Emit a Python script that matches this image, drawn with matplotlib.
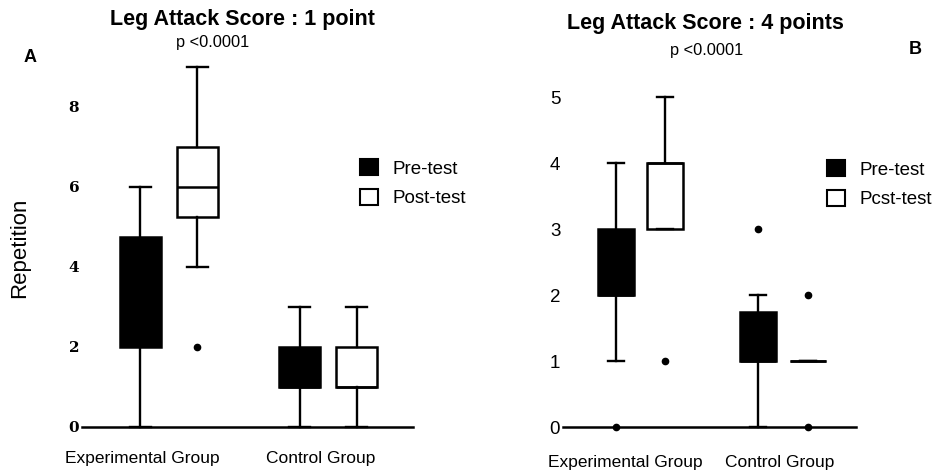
import matplotlib.pyplot as plt
from matplotlib.patches import Patch

plt.rcParams['font.family'] = ['Liberation Sans', 'DejaVu Sans']

# Leg attack score 1 point (panel A): Exp pre, Exp post, Ctrl pre, Ctrl post
a_q1 = [2, 5.25, 1, 1]
a_med = [3, 6, 1, 1]
a_q3 = [4.75, 7, 2, 2]
a_lo = [0, 4, 0, 0]
a_hi = [6, 9, 3, 3]
a_fliers = [[], [2], [], []]

# Leg attack score 4 points (panel B)
b_q1 = [2, 3, 1, 1]
b_med = [2, 4, 1, 1]
b_q3 = [3, 4, 1.75, 1]
b_lo = [1, 3, 0, 1]
b_hi = [4, 5, 2, 1]
b_fliers = [[0], [1], [3], [2, 0]]

groups = ['Experimental Group', 'Control Group']
fills = ['black', 'white', 'black', 'white']

W, H = 941, 474
fig = plt.figure(figsize=(W / 100, H / 100), dpi=100)


def px_axes(x0, x1, ytop, ybot):
    return fig.add_axes([x0 / W, 1 - ybot / H, (x1 - x0) / W, (ybot - ytop) / H])


def ftext(x, y, s, **kw):
    fig.text(x / W, 1 - y / H, s, ha='center', va='center', **kw)


def draw_panel(ax, q1, med, q3, lo, hi, fliers, pos, width, capw):
    stats = []
    for i in range(4):
        stats.append(dict(q1=q1[i], med=med[i], q3=q3[i], whislo=lo[i],
                          whishi=hi[i], fliers=fliers[i]))
    res = ax.bxp(stats, positions=pos, widths=width, capwidths=capw,
                 patch_artist=True, manage_ticks=False,
                 boxprops=dict(linewidth=1.8, edgecolor='black'),
                 whiskerprops=dict(linewidth=1.7, color='black'),
                 capprops=dict(linewidth=1.7, color='black'),
                 medianprops=dict(linewidth=1.8, color='black'),
                 flierprops=dict(marker='o', markersize=4.5, markerfacecolor='black',
                                 markeredgecolor='black'))
    for box, c in zip(res['boxes'], fills):
        box.set_facecolor(c)
    for k in res:
        for art in res[k]:
            art.set_clip_on(False)
    for s in ['top', 'right', 'left']:
        ax.spines[s].set_visible(False)
    ax.spines['bottom'].set_linewidth(1.8)
    ax.set_xticks([])
    ax.tick_params(axis='y', length=0, pad=2)


def add_legend(ax, labels, x, y):
    ax.legend(handles=[Patch(facecolor='black', edgecolor='black', linewidth=1.5),
                       Patch(facecolor='white', edgecolor='black', linewidth=1.5)],
              labels=labels, loc='upper left',
              bbox_to_anchor=(x / W, 1 - y / H), bbox_transform=fig.transFigure,
              frameon=False, fontsize=13.5, handlelength=0.95, handleheight=0.95,
              handletextpad=0.8, labelspacing=0.6, borderpad=0, borderaxespad=0)


# panel A
axA = px_axes(82, 413, 47, 427)
draw_panel(axA, a_q1, a_med, a_q3, a_lo, a_hi, a_fliers,
           [1, 2, 3.8, 4.8], 0.72, 0.37)
axA.set_xlim(-0.02, 5.79)
axA.set_ylim(0, 9.5)
axA.set_yticks([0, 2, 4, 6, 8])
axA.tick_params(axis='y', labelsize=11)
for t in axA.get_yticklabels():
    t.set_fontweight('bold')
    t.set_family(['DejaVu Serif'])
ftext(20, 248, 'Repetition', fontsize=16, rotation=90)
ftext(242, 20, 'Leg Attack Score : 1 point', fontsize=15.5, fontweight='bold')
ftext(213, 42, 'p <0.0001', fontsize=11.8)
ftext(30, 57, 'A', fontsize=13, fontweight='bold')
ftext(142, 459, groups[0], fontsize=12.5)
ftext(321, 459, groups[1], fontsize=12.5)
add_legend(axA, ['Pre-test', 'Post-test'], 360, 159)

# panel B
axB = px_axes(563, 856, 64, 427)
draw_panel(axB, b_q1, b_med, b_q3, b_lo, b_hi, b_fliers,
           [1, 1.99, 3.87, 4.88], 0.73, 0.34)
axB.set_xlim(-0.07, 5.85)
axB.set_ylim(0, 5.5)
axB.set_yticks([0, 1, 2, 3, 4, 5])
axB.tick_params(axis='y', labelsize=13.5)
ftext(705, 23, 'Leg Attack Score : 4 points', fontsize=15.5, fontweight='bold')
ftext(707, 50, 'p <0.0001', fontsize=11.8)
ftext(915, 50, 'B', fontsize=13, fontweight='bold')
ftext(625, 463, groups[0], fontsize=12.5)
ftext(780, 462, groups[1], fontsize=12.5)
add_legend(axB, ['Pre-test', 'Pcst-test'], 827, 160)

fig.savefig('out.png', dpi=100)
